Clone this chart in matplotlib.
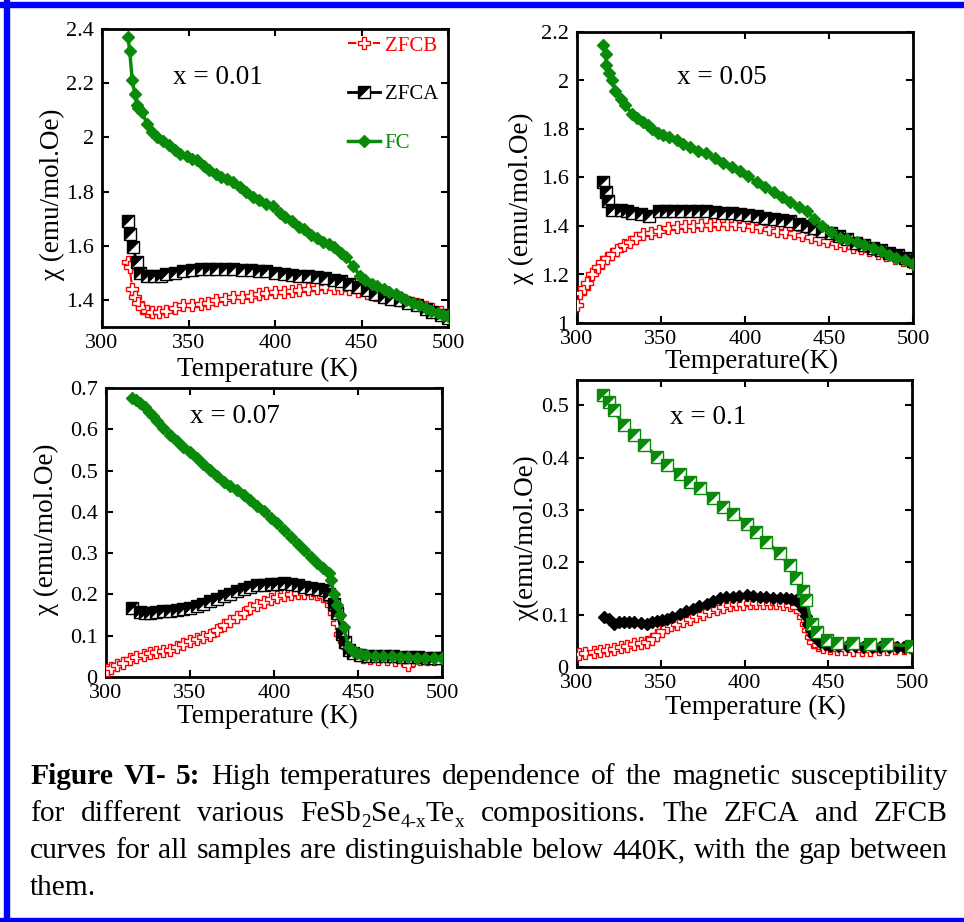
import matplotlib
matplotlib.use('Agg')
import matplotlib.pyplot as plt
from matplotlib.path import Path
from matplotlib.patches import Rectangle
from matplotlib.legend_handler import HandlerTuple
from matplotlib.ticker import FuncFormatter

plt.rcParams['font.family'] = ['Liberation Serif', 'DejaVu Serif']

# ---------------- data ----------------
# panel x = 0.01
T1_fc = [315, 316, 317.5, 319, 320, 321, 323, 326, 329, 332, 335, 339, 342, 345, 349, 352, 355, 359, 362, 366, 369, 372, 376, 380, 383, 387, 391, 395, 399, 403, 406, 410, 414, 417, 421, 424, 428, 431, 434, 438, 441, 445, 449, 452, 456, 459, 463, 466, 470, 473, 476, 480, 483, 487, 490, 494, 497, 500]
C1_fc = [2.37, 2.32, 2.21, 2.16, 2.12, 2.11, 2.095, 2.05, 2.02, 2.00, 1.985, 1.97, 1.955, 1.94, 1.93, 1.92, 1.915, 1.895, 1.88, 1.865, 1.855, 1.845, 1.835, 1.815, 1.80, 1.78, 1.77, 1.755, 1.745, 1.72, 1.705, 1.69, 1.67, 1.66, 1.64, 1.63, 1.615, 1.605, 1.595, 1.575, 1.56, 1.525, 1.49, 1.475, 1.46, 1.45, 1.44, 1.43, 1.42, 1.41, 1.40, 1.39, 1.38, 1.37, 1.36, 1.35, 1.345, 1.34]
T1_a = [315, 316, 318, 320, 322, 326, 330, 334, 337, 342, 347, 352, 357, 362, 366, 371, 376, 381, 386, 391, 395, 400, 405, 410, 414, 419, 424, 429, 434, 438, 443, 448, 453, 458, 463, 467, 472, 477, 482, 487, 491, 496, 500]
C1_a = [1.69, 1.645, 1.595, 1.54, 1.50, 1.49, 1.49, 1.49, 1.495, 1.50, 1.505, 1.51, 1.515, 1.515, 1.515, 1.515, 1.515, 1.512, 1.51, 1.507, 1.505, 1.50, 1.495, 1.492, 1.49, 1.488, 1.485, 1.48, 1.475, 1.468, 1.46, 1.448, 1.435, 1.422, 1.41, 1.405, 1.40, 1.39, 1.38, 1.367, 1.355, 1.345, 1.335]
T1_b = [315, 316, 317.5, 319, 321, 323, 326, 329, 333, 337, 342, 347, 352, 357, 361, 366, 371, 376, 381, 386, 391, 395, 400, 405, 410, 414, 419, 424, 429, 434, 438, 443, 448, 453, 458, 463, 467, 472, 477, 482, 487, 491, 496, 500]
C1_b = [1.54, 1.52, 1.44, 1.41, 1.39, 1.37, 1.36, 1.355, 1.357, 1.36, 1.37, 1.38, 1.383, 1.385, 1.39, 1.40, 1.405, 1.41, 1.412, 1.415, 1.42, 1.425, 1.428, 1.43, 1.432, 1.435, 1.44, 1.445, 1.447, 1.445, 1.443, 1.44, 1.433, 1.425, 1.418, 1.41, 1.405, 1.40, 1.392, 1.385, 1.375, 1.365, 1.355, 1.345]

# panel x = 0.05
T2_fc = [315.5, 317, 317.5, 319, 321, 322.6, 326, 328.6, 333, 336, 339, 342, 344.6, 348, 351, 355, 359.5, 363, 367, 372, 377, 382, 387, 392, 397, 402, 407, 412, 417, 422, 427, 432, 437, 441, 446, 451, 456.5, 461, 466.6, 471, 476, 481, 486, 490, 495, 500]
C2_fc = [2.145, 2.11, 2.065, 2.03, 2.00, 1.955, 1.925, 1.90, 1.86, 1.845, 1.83, 1.815, 1.80, 1.785, 1.775, 1.765, 1.755, 1.74, 1.725, 1.71, 1.70, 1.68, 1.66, 1.645, 1.625, 1.605, 1.58, 1.56, 1.54, 1.52, 1.50, 1.48, 1.46, 1.43, 1.40, 1.375, 1.35, 1.345, 1.335, 1.32, 1.31, 1.295, 1.28, 1.27, 1.26, 1.245]
T2_a = [315.5, 317, 318.5, 321, 326, 330, 333, 338, 343, 349, 353, 357, 362, 367, 372, 377, 382, 387, 392, 397, 402, 407, 412, 417, 422, 427, 432, 437, 441, 446, 451, 456, 461, 466, 471, 476, 481, 486, 491, 495, 500]
C2_a = [1.58, 1.54, 1.505, 1.465, 1.465, 1.46, 1.455, 1.45, 1.44, 1.46, 1.462, 1.462, 1.462, 1.462, 1.461, 1.46, 1.458, 1.455, 1.452, 1.45, 1.445, 1.44, 1.435, 1.43, 1.425, 1.42, 1.41, 1.40, 1.39, 1.38, 1.37, 1.36, 1.345, 1.33, 1.32, 1.31, 1.30, 1.29, 1.28, 1.27, 1.255]
T2_b = [300, 302, 304, 306, 309, 312.5, 315, 318, 321, 324, 328, 331.5, 335, 339, 344, 349, 354, 359.5, 364, 369, 374, 379, 384, 389, 394, 399, 404, 409, 414, 419, 424, 429, 434, 439, 444, 449, 454, 459, 464, 469, 474, 479, 484, 489, 494, 499]
C2_b = [1.075, 1.125, 1.145, 1.165, 1.20, 1.23, 1.25, 1.27, 1.285, 1.30, 1.32, 1.335, 1.35, 1.365, 1.372, 1.38, 1.39, 1.395, 1.398, 1.40, 1.403, 1.405, 1.408, 1.41, 1.408, 1.405, 1.40, 1.395, 1.388, 1.38, 1.375, 1.37, 1.362, 1.355, 1.348, 1.34, 1.33, 1.32, 1.315, 1.31, 1.30, 1.29, 1.28, 1.27, 1.26, 1.25]

# panel x = 0.07
T3_fc = [315.5, 318, 320.4, 323, 325.4, 328, 330.4, 334, 338.3, 342, 346, 350, 354, 358, 362, 366, 370, 374, 378, 382, 386, 390, 394, 398, 402, 406, 410, 414, 418, 422, 425.6, 429, 432.5, 434, 435.5, 437.5, 439.5, 441.5, 444.4, 447, 449.4, 452, 455, 460, 465, 470, 475, 480, 485, 490, 495, 500]
C3_fc = [0.676, 0.670, 0.664, 0.653, 0.643, 0.631, 0.619, 0.603, 0.587, 0.572, 0.558, 0.544, 0.530, 0.516, 0.502, 0.487, 0.473, 0.463, 0.453, 0.441, 0.429, 0.415, 0.401, 0.386, 0.372, 0.356, 0.340, 0.323, 0.307, 0.290, 0.275, 0.263, 0.251, 0.235, 0.202, 0.174, 0.150, 0.121, 0.073, 0.063, 0.057, 0.055, 0.053, 0.051, 0.050, 0.050, 0.049, 0.048, 0.047, 0.047, 0.046, 0.046]
T3_a = [315.5, 320, 323, 326, 330, 334, 338, 342, 346, 350, 354, 358, 362, 366, 370, 374, 378, 382, 386, 390, 394, 398, 402, 406, 410, 414, 418, 422, 426, 430.5, 433, 435.5, 437.5, 440.5, 442.5, 444.4, 447, 451, 456, 461, 466, 471, 476, 481, 486, 491, 495, 499]
C3_a = [0.166, 0.158, 0.156, 0.155, 0.158, 0.160, 0.161, 0.162, 0.164, 0.166, 0.172, 0.178, 0.184, 0.190, 0.196, 0.202, 0.208, 0.214, 0.218, 0.222, 0.224, 0.225, 0.226, 0.227, 0.225, 0.222, 0.219, 0.216, 0.213, 0.210, 0.200, 0.178, 0.154, 0.105, 0.085, 0.065, 0.058, 0.053, 0.051, 0.050, 0.050, 0.050, 0.049, 0.049, 0.048, 0.047, 0.047, 0.046]
T3_b = [300.6, 303, 306.5, 310, 314.5, 318, 322.4, 326, 330, 334, 338, 342, 346, 350, 354, 358, 362, 366, 370, 374, 378, 382, 386, 390, 394, 398, 402, 406, 410, 414, 418, 422, 425.6, 429, 432.5, 434, 435.5, 437.5, 439.5, 441.5, 443.5, 446, 449.4, 453, 457, 462, 467, 472, 477, 480, 483, 487, 491, 495, 499]
C3_b = [0.016, 0.022, 0.028, 0.035, 0.044, 0.049, 0.053, 0.057, 0.061, 0.063, 0.065, 0.072, 0.081, 0.087, 0.093, 0.097, 0.101, 0.113, 0.125, 0.136, 0.146, 0.156, 0.166, 0.174, 0.182, 0.188, 0.194, 0.198, 0.202, 0.203, 0.204, 0.203, 0.201, 0.196, 0.190, 0.175, 0.154, 0.130, 0.105, 0.088, 0.073, 0.062, 0.053, 0.048, 0.045, 0.044, 0.043, 0.042, 0.042, 0.028, 0.042, 0.043, 0.044, 0.044, 0.045]

# panel x = 0.1
T4_fc = [315.5, 319, 322, 328, 334, 340, 348, 353.6, 361.6, 367.5, 373.5, 381.4, 387.4, 393.3, 401.3, 407, 413, 421, 427, 431, 435, 437, 440, 443, 449, 455, 465, 475, 485, 499.6]
C4_fc = [0.519, 0.506, 0.490, 0.462, 0.443, 0.424, 0.401, 0.385, 0.369, 0.354, 0.341, 0.322, 0.306, 0.293, 0.274, 0.258, 0.239, 0.217, 0.194, 0.169, 0.146, 0.127, 0.083, 0.067, 0.051, 0.045, 0.045, 0.043, 0.043, 0.041]
T4_a = [316, 319, 322, 325, 328, 331, 334, 338, 342, 345, 348, 351, 353.6, 357, 361.6, 365, 369.5, 373, 377.5, 381, 385.4, 389, 393.3, 397, 401.3, 405, 409, 413, 417, 421, 425, 428, 431, 433, 435, 436.5, 438, 439.5, 441, 443, 445, 448, 451, 456, 461, 466, 471, 476, 481, 486, 491, 495, 499.6]
C4_a = [0.0955, 0.092, 0.083, 0.085, 0.086, 0.086, 0.085, 0.084, 0.083, 0.085, 0.087, 0.090, 0.092, 0.096, 0.102, 0.106, 0.111, 0.116, 0.121, 0.126, 0.131, 0.133, 0.134, 0.136, 0.137, 0.136, 0.134, 0.133, 0.132, 0.132, 0.132, 0.130, 0.127, 0.120, 0.111, 0.097, 0.083, 0.071, 0.061, 0.053, 0.048, 0.044, 0.041, 0.041, 0.041, 0.040, 0.038, 0.039, 0.039, 0.039, 0.039, 0.039, 0.039]
T4_b = [301, 305, 310, 314, 318, 322, 326, 330, 334, 338, 342, 345, 348, 351, 353.6, 356, 359.6, 363, 367.5, 371, 375.5, 379, 383.4, 387, 391.4, 395, 399.3, 403, 407, 411, 415, 419, 423, 427, 431, 433, 435, 436.5, 438, 439.5, 441, 444, 447, 451, 455, 460, 465, 470, 475, 480, 485, 490, 495, 499.6]
C4_b = [0.025, 0.027, 0.029, 0.031, 0.032, 0.035, 0.038, 0.040, 0.043, 0.045, 0.048, 0.054, 0.061, 0.069, 0.076, 0.080, 0.083, 0.087, 0.092, 0.097, 0.102, 0.107, 0.111, 0.115, 0.118, 0.120, 0.121, 0.122, 0.123, 0.123, 0.122, 0.122, 0.121, 0.119, 0.115, 0.107, 0.096, 0.083, 0.070, 0.058, 0.048, 0.042, 0.038, 0.036, 0.035, 0.034, 0.033, 0.033, 0.033, 0.034, 0.035, 0.036, 0.037, 0.038]

labels_x = ['x = 0.01', 'x = 0.05', 'x = 0.07', 'x = 0.1']
series_names = ['ZFCB', 'ZFCA', 'FC']
xlabels = ['Temperature (K)', 'Temperature(K)', 'Temperature (K)', 'Temperature (K)']
ylabels = ['\u03c7 (emu/mol.Oe)', '\u03c7 (emu/mol.Oe)', '\u03c7 (emu/mol.Oe)', '\u03c7(emu/mol.Oe)']

# ---------------- figure ----------------
W, H = 964, 922
fig = plt.figure(figsize=(W / 100, H / 100), dpi=100)

def px_rect(l, t, r, b):
    return [l / W, (H - b) / H, (r - l) / W, (b - t) / H]

RED, BLACK, GREEN = '#ff0000', '#000000', '#0a8a0a'
tri = Path([(-1, -1), (-1, 1), (1, 1), (-1, -1)], [Path.MOVETO, Path.LINETO, Path.LINETO, Path.CLOSEPOLY])

def half_square(ax, T, C, color, lw, z):
    l1, = ax.plot(T, C, '-', color=color, lw=lw, marker='s', ms=8.5, mfc='white', mec=color, mew=1.0, zorder=z)
    l2, = ax.plot(T, C, linestyle='none', marker=tri, ms=8.5, mfc=color, mec=color, mew=0.5, zorder=z + 0.1)
    return (l1, l2)

def diamonds(ax, T, C, color, lw, z):
    l, = ax.plot(T, C, '-', color=color, lw=lw, marker='D', ms=6.5, mfc=color, mec=color, mew=1.0, zorder=z)
    return l

def crosses(ax, T, C, z):
    l, = ax.plot(T, C, linestyle=(0, (4, 2)), color=RED, lw=1.5, marker='P', ms=9, mfc='white', mec=RED, mew=1.0, zorder=z)
    return l

panels = [
    dict(rect=px_rect(102, 29, 448, 327), ylim=(1.3, 2.4), yt=[1.4, 1.6, 1.8, 2.0, 2.2, 2.4],
         data=(T1_b, C1_b, T1_a, C1_a, T1_fc, C1_fc), swap=False,
         txt=(0.205, 0.836), ylc=(-0.107, 0.445), xlc=(0.477, -0.10)),
    dict(rect=px_rect(577, 32, 913, 323), ylim=(1.0, 2.2), yt=[1.0, 1.2, 1.4, 1.6, 1.8, 2.0, 2.2],
         data=(T2_b, C2_b, T2_a, C2_a, T2_fc, C2_fc), swap=False,
         txt=(0.298, 0.842), ylc=(-0.128, 0.43), xlc=(0.52, -0.089)),
    dict(rect=px_rect(106, 388, 442, 677), ylim=(0.0, 0.7), yt=[0, 0.1, 0.2, 0.3, 0.4, 0.5, 0.6, 0.7],
         data=(T3_b, C3_b, T3_a, C3_a, T3_fc, C3_fc), swap=False,
         txt=(0.25, 0.90), ylc=(-0.14, 0.51), xlc=(0.48, -0.094)),
    dict(rect=px_rect(577, 380, 912, 667), ylim=(0.0, 0.548), yt=[0, 0.1, 0.2, 0.3, 0.4, 0.5],
         data=(T4_b, C4_b, T4_a, C4_a, T4_fc, C4_fc), swap=True,
         txt=(0.278, 0.871), ylc=(-0.113, 0.45), xlc=(0.534, -0.097)),
]

fmt = FuncFormatter(lambda v, p: ('%g' % round(v, 3)))

for i, p in enumerate(panels):
    ax = fig.add_axes(p['rect'])
    Tb, Cb, Ta, Ca, Tf, Cf = p['data']
    hb = crosses(ax, Tb, Cb, 3)
    if not p['swap']:
        ha = half_square(ax, Ta, Ca, BLACK, 2.0, 4)
        hf = diamonds(ax, Tf, Cf, GREEN, 2.5, 5)
    else:
        ha = diamonds(ax, Ta, Ca, BLACK, 2.0, 4)
        hf = half_square(ax, Tf, Cf, GREEN, 2.5, 5)
    ax.set_xlim(300, 500)
    ax.set_ylim(*p['ylim'])
    ax.set_xticks([300, 350, 400, 450, 500])
    ax.set_yticks(p['yt'])
    ax.yaxis.set_major_formatter(fmt)
    ax.tick_params(direction='in', length=5, width=1.5, top=True, right=True, labelsize=16)
    ax.tick_params(axis='y', pad=6)
    ax.tick_params(axis='x', pad=5)
    for s in ax.spines.values():
        s.set_linewidth(2.0)
    ax.set_xlabel(xlabels[i], fontsize=19.5)
    ax.set_ylabel(ylabels[i], fontsize=19.5)
    ax.yaxis.set_label_coords(*p['ylc'])
    ax.xaxis.set_label_coords(*p['xlc'])
    ax.text(p['txt'][0], p['txt'][1], labels_x[i], transform=ax.transAxes, fontsize=19.5, ha='left', va='center')
    if i == 0:
        leg = ax.legend([hb, ha, hf], series_names, loc='upper left', bbox_to_anchor=(0.70, 0.99),
                        frameon=False, fontsize=15, handlelength=1.5, handletextpad=0.25,
                        labelspacing=1.4, borderpad=0.2, borderaxespad=0,
                        handler_map={tuple: HandlerTuple(ndivide=1)})
        for t, c in zip(leg.get_texts(), [RED, BLACK, GREEN]):
            t.set_color(c)

# ---------------- caption (justified) ----------------
renderer = fig.canvas.get_renderer()
LEFT, RIGHT = 30, 948
baselines = [784, 821, 858, 895]

N, B, S = 'normal', 'bold', 'sub'
lines = [
    [[('Figure', B, N)], [('VI-', B, N)], [('5:', B, N)]] + [[(w, N, N)] for w in 'High temperatures dependence of the magnetic susceptibility'.split()],
    [[(w, N, N)] for w in 'for different various'.split()] +
    [[('FeSb', N, N), ('2', N, S), ('Se', N, N), ('4-x', N, S), ('Te', N, N), ('x', N, S)]] +
    [[(w, N, N)] for w in 'compositions. The ZFCA and ZFCB'.split()],
    [[(w, N, N)] for w in 'curves for all samples are distinguishable below 440K, with the gap between'.split()],
    [[('them.', N, N)]],
]

def build(cap):
    sp = fig.text(0, 0, 'a a', fontsize=cap)
    sp2 = fig.text(0, 0, 'aa', fontsize=cap)
    space_w = sp.get_window_extent(renderer).width - sp2.get_window_extent(renderer).width
    sp.remove(); sp2.remove()
    made = []
    ok = True
    for li, ln in enumerate(lines):
        words = []
        for wd in ln:
            items = []
            total = 0
            for txt, weight, kind in wd:
                fs = cap if kind == N else cap * 0.65
                t = fig.text(0, 0, txt, fontsize=fs, fontweight=weight, ha='left', va='baseline')
                w = t.get_window_extent(renderer).width
                items.append((t, total, kind))
                made.append(t)
                total += w
            words.append((items, total))
        tot = sum(w for _, w in words)
        if li < len(lines) - 1 and len(words) > 1:
            gap = (RIGHT - LEFT - tot) / (len(words) - 1)
            if gap < space_w * 1.05:
                ok = False
        else:
            gap = space_w
        x = LEFT
        yb = baselines[li]
        for items, w in words:
            for t, off, kind in items:
                dy = 0 if kind == N else 0.3 * cap
                t.set_position(((x + off) / W, (H - yb - dy) / H))
            x += w + gap
    return ok, made

cap = 23.0
while True:
    ok, made = build(cap)
    if ok or cap <= 18:
        break
    for t in made:
        t.remove()
    cap -= 0.25

# ---------------- blue frame ----------------
blue = '#0000ff'
fig.patches.append(Rectangle((0, (H - 7) / H), 1, 5 / H, transform=fig.transFigure, color=blue, zorder=10))
fig.patches.append(Rectangle((4 / W, 0), 5 / W, 1, transform=fig.transFigure, color=blue, zorder=10))
fig.patches.append(Rectangle((0, 1 / H), 1, 3 / H, transform=fig.transFigure, color=blue, zorder=10))

fig.savefig('out.png', dpi=100)
